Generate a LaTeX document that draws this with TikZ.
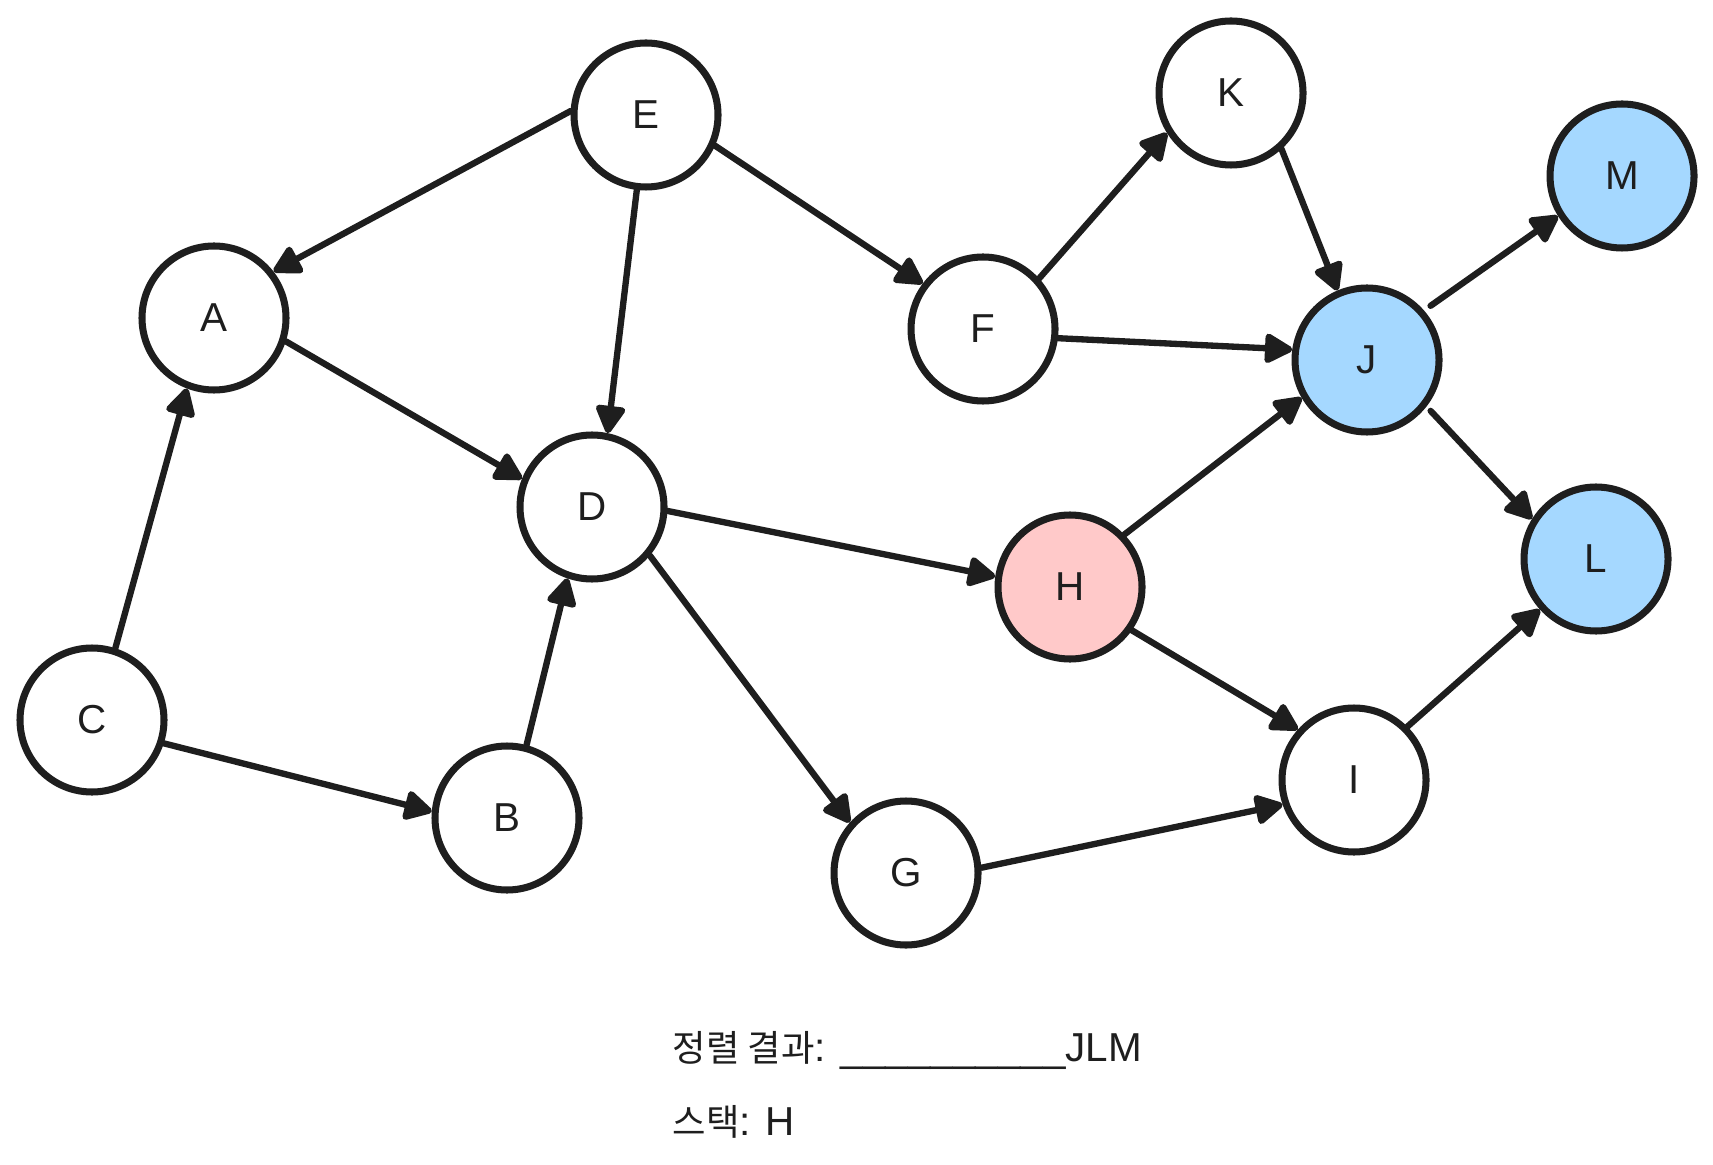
\documentclass[tikz,border=0pt]{standalone}
\usepackage{fontspec}
\setmainfont{Liberation Sans}
\newfontfamily\krfont[Scale=0.9]{Noto Sans CJK KR}
\usetikzlibrary{positioning,arrows.meta}
\definecolor{ink}{HTML}{1E1E1E}
\definecolor{sky}{HTML}{A5D8FF}
\definecolor{rose}{HTML}{FFC9C9}
\tikzset{
  vertex/.style={draw=ink, line width=2pt, circle, minimum size=1.44cm, inner sep=0pt, fill=white, text=ink, font=\fontsize{11.5}{13}\selectfont},
  edgeline/.style={draw=ink, line width=1.8pt, line cap=round, -{Triangle[length=0.31cm,width=0.32cm,round]}},
  caption/.style={anchor=base west, text=ink, inner sep=0pt, font=\fontsize{11.5}{13}\selectfont},
}
\begin{document}
\begin{tikzpicture}[on grid]
				\fill[white] (0,0) rectangle (17.13,-11.64);
				% Vertices
				\node[vertex] (E) at (6.46,-1.15) {E};
				\node[vertex,below left=2.03cm and 4.32cm of E] (A) {A};
				\node[vertex,below left=3.92cm and 0.54cm of E] (D) {D};
				\node[vertex,below right=2.14cm and 3.37cm of E] (F) {F};
				\node[vertex,above right=2.36cm and 2.48cm of F] (K) {K};
				\node[vertex,fill=sky,below right=0.31cm and 3.84cm of F] (J) {J};
				\node[vertex,fill=sky,above right=1.84cm and 2.55cm of J] (M) {M};
				\node[vertex,fill=sky,below right=1.99cm and 2.29cm of J] (L) {L};
				\node[vertex,fill=rose,below right=0.80cm and 4.78cm of D] (H) {H};
				\node[vertex,below left=4.02cm and 1.22cm of A] (C) {C};
				\node[vertex,below right=0.98cm and 4.15cm of C] (B) {B};
				\node[vertex,below right=3.66cm and 3.14cm of D] (G) {G};
				\node[vertex,below right=1.93cm and 2.84cm of H] (I) {I};
				
				% Edges
				\draw[edgeline] (E.177) -- (A.38);
				\draw[edgeline] (E.263) -- (D.78);
				\draw[edgeline] (E.336) -- (F.143);
				\draw[edgeline] (A.342) -- (D.158);
				\draw[edgeline] (C.72) -- (A.249);
				\draw[edgeline] (C.342) -- (B.175);
				\draw[edgeline] (B.75) -- (D.251);
				\draw[edgeline] (D.357) -- (H.172);
				\draw[edgeline] (D.320) -- (G.138);
				\draw[edgeline] (F.42) -- (K.212);
				\draw[edgeline] (F.353) -- (J.172);
				\draw[edgeline] (K.312) -- (J.113);
				\draw[edgeline,shorten <=0.08cm] (J.41) -- (M.212);
				\draw[edgeline,shorten <=0.06cm] (J.322) -- (L.148);
				\draw[edgeline] (H.44) -- (J.210);
				\draw[edgeline] (H.325) -- (I.138);
				\draw[edgeline] (G.4) -- (I.199);
				\draw[edgeline] (I.45) -- (L.222);
				
				% Result
				\node[caption] (result) at (6.72,-10.61) {{\krfont 정렬 결과}: \_\_\_\_\_\_\_\_\_\_JLM};
				\node[caption] (stack) at (6.72,-11.35) {{\krfont 스택}: H};
			\end{tikzpicture}
\end{document}
